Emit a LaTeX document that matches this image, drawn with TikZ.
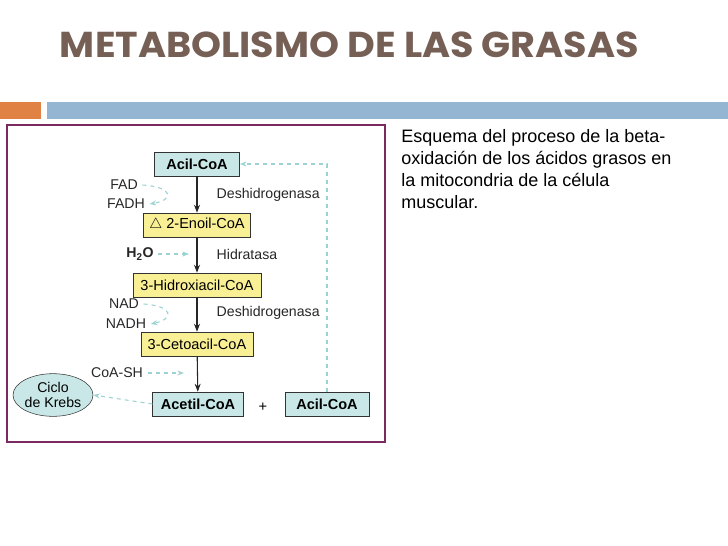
\documentclass[tikz,border=0pt]{standalone}
\usepackage{fontspec}
\setmainfont{Liberation Sans}
\newfontfamily\titlefont{Poppins}
\usetikzlibrary{arrows.meta,shapes.geometric}
\definecolor{titlebrown}{HTML}{765F55}
\definecolor{barorange}{HTML}{DF8244}
\definecolor{barblue}{HTML}{94B6D2}
\definecolor{framepurple}{HTML}{7A2A5E}
\definecolor{boxteal}{HTML}{C9E7E6}
\definecolor{boxyellow}{HTML}{F9EF94}
\definecolor{dashteal}{HTML}{9CD2D2}
\tikzset{x=0.75pt, y=-0.75pt,
  tealbox/.style={draw=black!80, fill=boxteal, font=\bfseries\fontsize{10.9}{12}\selectfont, minimum height=18pt, inner xsep=3pt},
  yellowbox/.style={draw=black!80, fill=boxyellow, font=\fontsize{10.9}{12}\selectfont, minimum height=18pt, inner xsep=3pt},
  lab/.style={font=\fontsize{10.6}{12}\selectfont, text=black!85},
  mainarrow/.style={-{Stealth[length=6pt]}, thick, black!85},
  sidearrow/.style={-{Stealth[length=5pt]}, dashed, dashteal, thick}}
\begin{document}
\begin{tikzpicture}
\useasboundingbox (0,0) rectangle (728,546);
% title and bars
\node[anchor=west, text=titlebrown, xscale=1.06, font=\titlefont\bfseries\fontsize{27}{30}\selectfont] (title) at (55,45) {METABOLISMO DE LAS GRASAS};
\fill[barorange] (0,102) rectangle (41,119);
\fill[barblue] (47,102) rectangle (728,119);
\draw[framepurple, line width=1.5pt] (7,125) rectangle (385,442);

% pathway
\node[tealbox, minimum width=64pt] (acil) at (197,164) {Acil-CoA};
\node[yellowbox, minimum width=80pt] (enoil) at (197,225) {$\triangle$ 2-Enoil-CoA};
\node[yellowbox, minimum width=96pt] (hidrox) at (197,285) {3-Hidroxiacil-CoA};
\node[yellowbox, minimum width=84pt] (ceto) at (197,344) {3-Cetoacil-CoA};
\node[tealbox, minimum width=68pt] (acetil) at (198,404) {Acetil-CoA};
\node[tealbox, minimum width=63pt] (acil2) at (327,404) {Acil-CoA};
\node[draw=black!80, fill=boxteal, ellipse, minimum width=60pt, minimum height=32pt, inner sep=0pt, align=center, font=\fontsize{10.6}{11}\selectfont] (krebs) at (53,395) {Ciclo\\de Krebs};
\node[font=\fontsize{11}{12}\selectfont] (plus) at (263,407) {+};

\draw[mainarrow] (acil) -- (enoil);
\draw[mainarrow] (enoil) -- (hidrox);
\draw[mainarrow] (hidrox) -- (ceto);
\draw[mainarrow] (ceto) -- (acetil);

% enzymes
\node[lab, anchor=west] (e1) at (212,195) {Deshidrogenasa};
\node[lab, anchor=west] (e2) at (212,254) {Hidratasa};
\node[lab, anchor=west] (e3) at (212,313) {Deshidrogenasa};

% side reactions
\node[lab] (fad) at (124,185) {FAD};
\node[lab] (fadh) at (126,204) {FADH};
\node[lab, font=\bfseries\fontsize{10.6}{12}\selectfont] (water) at (140,254) {H$_\mathbf{2}$O};
\node[lab] (nad) at (124,304) {NAD};
\node[lab] (nadh) at (126,324) {NADH};
\node[lab] (coa) at (117,373) {CoA-SH};
\draw[sidearrow] (fad.east) .. controls (174,187) and (174,200) .. (fadh.east);
\draw[sidearrow] (nad.east) .. controls (174,306) and (174,319) .. (nadh.east);
\draw[sidearrow] (water.east) -- (189,254);
\draw[sidearrow] (coa.east) -- (184,373);
\draw[sidearrow] (acetil.west) -- (krebs.east);
\draw[sidearrow] (acil2.north) |- (acil.east);

% caption
\node[anchor=north west, align=left, inner sep=0pt, font=\fontsize{13.5}{16.5}\selectfont] (caption) at (401,129) {Esquema del proceso de la beta-\\oxidación de los ácidos grasos en\\la mitocondria de la célula\\muscular.};
\end{tikzpicture}
\end{document}
